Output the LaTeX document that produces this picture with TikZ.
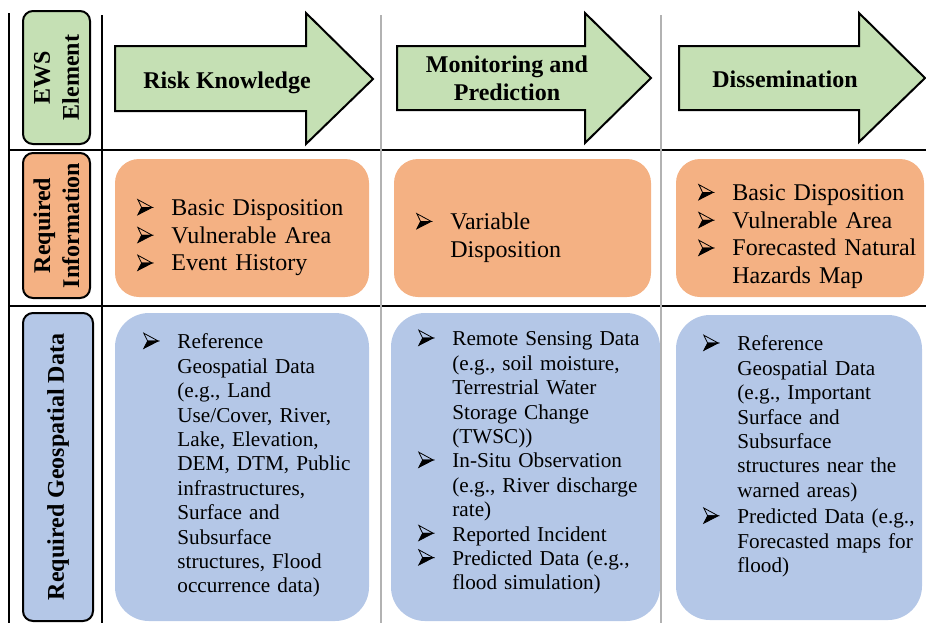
\documentclass[tikz,border=0pt]{standalone}
\usepackage{fontspec}
\setmainfont{Liberation Serif}
\usepackage{xcolor}

\definecolor{ewsgreen}{HTML}{C5E0B4}
\definecolor{infoorange}{HTML}{F4B183}
\definecolor{geoblue}{HTML}{B4C7E7}

\newsavebox{\arrowbul}
\newcommand{\itm}[2][0pt]{\par\vspace{#1}\noindent\makebox[17pt][l]{\usebox{\arrowbul}}\begin{tabular}[t]{@{}l@{}}#2\end{tabular}\par}

\begin{document}
\sbox{\arrowbul}{\begin{pgfpicture}
\pgfsetlinewidth{0.4pt}
\pgfpathmoveto{\pgfpoint{0pt}{7.6pt}}\pgfpathlineto{\pgfpoint{7.2pt}{3.7pt}}\pgfpathlineto{\pgfpoint{1.9pt}{3.7pt}}\pgfpathclose
\pgfusepath{stroke}
\pgfpathmoveto{\pgfpoint{1.9pt}{3.7pt}}\pgfpathlineto{\pgfpoint{7.2pt}{3.7pt}}\pgfpathlineto{\pgfpoint{0pt}{0pt}}\pgfpathclose
\pgfusepath{fill,stroke}
\end{pgfpicture}}

\begin{tikzpicture}[x=0.5pt,y=-0.5pt,
rowlabel/.style={draw=black, line width=1pt, rounded corners=5pt, rotate=90, align=center, font=\bfseries\fontsize{12}{14.5}\selectfont},
ewsarrow/.style={draw=black, line width=1pt, fill=ewsgreen},
arrowtext/.style={align=center, inner sep=0pt, font=\bfseries\fontsize{12}{14}\selectfont},
infolist/.style={anchor=north west, inner sep=0pt, text width=130pt, align=left, font=\fontsize{12}{13.9}\selectfont},
geolist/.style={anchor=north west, inner sep=0pt, text width=130pt, align=left, font=\fontsize{10.6}{12.2}\selectfont}]

\useasboundingbox (0,0) rectangle (926,623);

% row labels
{
\node[rowlabel, fill=ewsgreen, minimum width=66.5pt, minimum height=33.5pt] (ews) at (56.5,77.5) {EWS\\Element};

\node[rowlabel, fill=infoorange, minimum width=72.5pt, minimum height=33.5pt] (info) at (56.5,225.5) {Required\\Information};

\node[rowlabel, fill=geoblue, minimum width=154pt, minimum height=35pt] (geo) at (58,467) {Required Geospatial Data};
}

% arrows
{
\draw[ewsarrow] (115,46) -- (306,46) -- (306,13) -- (373,79) -- (306,144) -- (306,111) -- (115,111) -- cycle;

\draw[ewsarrow] (397,46) -- (585,46) -- (585,13) -- (651,78) -- (585,143) -- (585,110) -- (397,110) -- cycle;

\draw[ewsarrow] (679,46) -- (859,46) -- (859,13) -- (925,78) -- (859,142) -- (859,110) -- (679,110) -- cycle;

\node[arrowtext, anchor=base] (risk) at (227,88) {Risk Knowledge};
\node[arrowtext] (monitor) at (507,78) {Monitoring and\\Prediction};
\node[arrowtext, anchor=base] (dissem) at (785,87) {Dissemination};
}

% boxes
{
\fill[infoorange, rounded corners=12pt] (115,159) rectangle (369,297);
\fill[infoorange, rounded corners=12pt] (394,159) rectangle (651,297);
\fill[infoorange, rounded corners=12pt] (676,159) rectangle (924,297);

\fill[geoblue, rounded corners=17pt] (115,313) rectangle (369,621);
\fill[geoblue, rounded corners=17pt] (391,313) rectangle (660,621);
\fill[geoblue, rounded corners=17pt] (676,315) rectangle (922,620);
}

% nodes
{
\node[infolist] (riskinfo) at (137,187)
{\itm{Basic Disposition}\itm{Vulnerable Area}\itm{Event History}};

\node[infolist] (monitorinfo) at (416,201)
{\itm{Variable\\Disposition}};

\node[infolist] (disseminfo) at (698,172)
{\itm{Basic Disposition}\itm{Vulnerable Area}\itm{Forecasted Natural\\Hazards Map}};

\node[geolist] (riskgeo) at (143,324)
{\itm{Reference\\Geospatial Data\\(e.g., Land\\Use/Cover, River,\\Lake, Elevation,\\DEM, DTM, Public\\infrastructures,\\Surface and\\Subsurface\\structures, Flood\\occurrence data)}};

\node[geolist] (monitorgeo) at (418,321)
{\itm{Remote Sensing Data\\(e.g., soil moisture,\\Terrestrial Water\\Storage Change\\(TWSC))}\itm[-1pt]{In-Situ Observation\\(e.g., River discharge\\rate)}\itm[-1pt]{Reported Incident}\itm{Predicted Data (e.g.,\\flood simulation)}};

\node[geolist] (dissemgeo) at (703,326)
{\itm{Reference\\Geospatial Data\\(e.g., Important\\Surface and\\Subsurface\\structures near the\\warned areas)}\itm{Predicted Data (e.g.,\\Forecasted maps for\\flood)}};
}

%lines
{
\draw[black, line width=1.4pt] (9,13) -- (9,623);
\draw[black, line width=1.4pt] (102,15) -- (102,623);
\draw[black, line width=1.2pt] (9,150) -- (926,150);
\draw[black, line width=1.2pt] (9,306) -- (926,306);

\draw[gray!60, line width=0.6pt] (381,15) -- (381,623);
\draw[gray!60, line width=0.6pt] (661,15) -- (661,623);
}

\end{tikzpicture}
\end{document}
